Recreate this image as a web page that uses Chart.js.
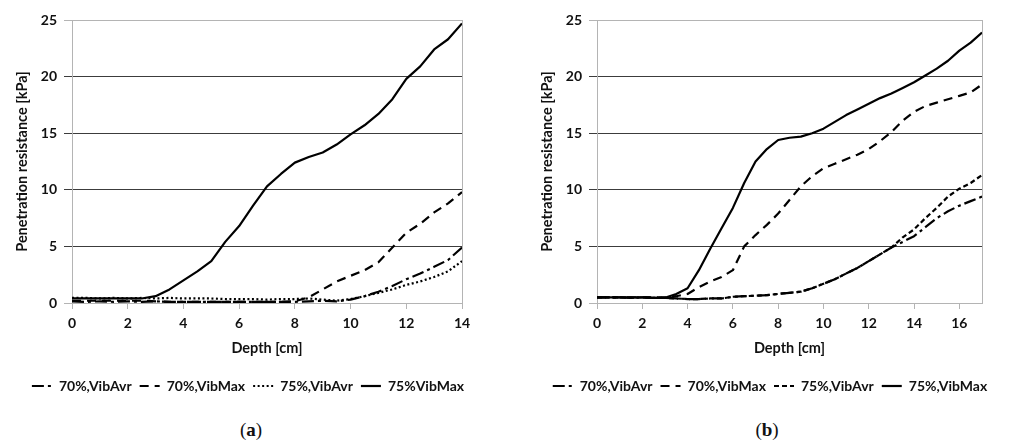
<!DOCTYPE html>
<html>
<head>
<meta charset="utf-8">
<script src="https://cdn.jsdelivr.net/npm/chart.js@4.4.0/dist/chart.umd.min.js"></script>
<style>
  html, body { margin: 0; padding: 0; background: #fff; }
  #page { position: relative; width: 1013px; height: 448px; overflow: hidden; }
  .panel { position: absolute; top: 0; height: 403px; }
  .caption { position: absolute; top: 419px; font-family: "Liberation Serif", serif; font-size: 19px; color: #111; transform: translateX(-50%); }
</style>
</head>
<body>
<div id="page">
  <div class="panel" style="left:0;width:500px"><canvas id="chart-a"></canvas></div>
  <div class="panel" style="left:516px;width:497px"><canvas id="chart-b"></canvas></div>
  <div class="caption" style="left:251px">(<b>a</b>)</div>
  <div class="caption" style="left:767px">(<b>b</b>)</div>
</div>
<script>
// (a) depth in cm, resistance in kPa
const depthA = [0, 0.5, 1, 1.5, 2, 2.5, 3, 3.5, 4, 4.5, 5, 5.5, 6, 6.5, 7, 7.5, 8, 8.5, 9, 9.5, 10, 10.5, 11, 11.5, 12, 12.5, 13, 13.5, 14];
const vibAvr70A = [0.15, 0.1, 0.15, 0.1, 0.15, 0.1, 0.15, 0.1, 0.1, 0.1, 0.1, 0.1, 0.1, 0.1, 0.1, 0.1, 0.1, 0.15, 0.2, 0.15, 0.3, 0.6, 1.0, 1.5, 2.1, 2.6, 3.2, 3.8, 4.9];
const vibMax70A = [0.2, 0.2, 0.2, 0.2, 0.2, 0.2, 0.15, 0.1, 0.1, 0.1, 0.1, 0.1, 0.1, 0.1, 0.1, 0.1, 0.15, 0.5, 1.2, 1.9, 2.4, 2.9, 3.6, 4.9, 6.2, 7.0, 8.0, 8.8, 9.8];
const vibAvr75A = [0.45, 0.45, 0.4, 0.45, 0.4, 0.45, 0.4, 0.45, 0.4, 0.4, 0.4, 0.35, 0.35, 0.35, 0.3, 0.35, 0.35, 0.4, 0.3, 0.2, 0.35, 0.6, 0.9, 1.2, 1.6, 1.9, 2.3, 2.8, 3.7];
const vibMax75A = [0.4, 0.4, 0.4, 0.4, 0.4, 0.4, 0.6, 1.2, 2.0, 2.8, 3.7, 5.4, 6.8, 8.6, 10.3, 11.4, 12.4, 12.9, 13.3, 14.0, 14.9, 15.7, 16.7, 18.0, 19.8, 20.9, 22.4, 23.3, 24.7];
const labelsA = ['70%,VibAvr', '70%,VibMax', '75%,VibAvr', '75%VibMax'];

// (b)
const depthB = [0, 0.5, 1, 1.5, 2, 2.5, 3, 3.5, 4, 4.5, 5, 5.5, 6, 6.5, 7, 7.5, 8, 8.5, 9, 9.5, 10, 10.5, 11, 11.5, 12, 12.5, 13, 13.5, 14, 14.5, 15, 15.5, 16, 16.5, 17];
const vibAvr70B = [0.5, 0.5, 0.5, 0.45, 0.5, 0.45, 0.45, 0.4, 0.35, 0.35, 0.4, 0.4, 0.55, 0.6, 0.65, 0.7, 0.8, 0.9, 1.0, 1.3, 1.7, 2.1, 2.6, 3.1, 3.7, 4.3, 4.9, 5.4, 5.9, 6.7, 7.5, 8.1, 8.6, 9.0, 9.4];
const vibMax70B = [0.5, 0.5, 0.5, 0.5, 0.5, 0.5, 0.5, 0.6, 0.8, 1.4, 1.9, 2.3, 2.9, 5.0, 6.0, 6.9, 7.9, 9.1, 10.3, 11.2, 11.9, 12.3, 12.7, 13.1, 13.6, 14.3, 15.1, 16.1, 16.9, 17.4, 17.7, 18.0, 18.3, 18.6, 19.3];
const vibAvr75B = [0.5, 0.5, 0.5, 0.45, 0.5, 0.45, 0.45, 0.4, 0.35, 0.35, 0.4, 0.4, 0.55, 0.6, 0.65, 0.7, 0.8, 0.9, 1.0, 1.3, 1.7, 2.1, 2.6, 3.1, 3.7, 4.3, 4.9, 5.8, 6.5, 7.5, 8.4, 9.4, 10.1, 10.6, 11.3];
const vibMax75B = [0.5, 0.5, 0.5, 0.5, 0.5, 0.45, 0.45, 0.8, 1.3, 2.9, 4.8, 6.6, 8.4, 10.6, 12.5, 13.6, 14.4, 14.6, 14.7, 15.0, 15.4, 16.0, 16.6, 17.1, 17.6, 18.1, 18.5, 19.0, 19.5, 20.1, 20.7, 21.4, 22.3, 23.0, 23.9];
const labelsB = ['70%,VibAvr', '70%,VibMax', '75%,VibAvr', '75%,VibMax'];

const yTicks = [0, 5, 10, 15, 20, 25];

// line patterns for the four series
const dashesA = [[12, 4, 3, 4], [9, 6], [2, 2.5], []];
const dashesB = [[12, 4, 3, 4], [9, 6], [5, 3], []];

const GRID = '#3c3c3c';
const AXIS = '#b4b4b4';
const TICK_FONT = { family: 'Lato', weight: 'bold', size: 14 };
const TITLE_FONT = { family: 'Lato', weight: 'bold', size: 14.5 };
const PLOT_BOTTOM = 303;

function points(xs, ys) {
    return xs.map((x, i) => ({ x: x, y: ys[i] }));
}

function makeChart(id, depths, series, labels, dashes, xMax, pad, rightWidth) {
    const datasets = series.map((ys, i) => ({
        label: labels[i],
        data: points(depths, ys),
        borderColor: '#000',
        backgroundColor: '#000',
        borderWidth: 2.2,
        borderDash: dashes[i],
        borderCapStyle: 'butt',
        borderJoinStyle: 'round',
        pointRadius: 0,
        tension: 0
    }));

    return new Chart(document.getElementById(id), {
        type: 'line',
        data: { datasets: datasets },
        options: {
            responsive: true,
            maintainAspectRatio: false,
            animation: false,
            layout: { padding: { left: pad.left, right: pad.right, top: 20, bottom: 0 } },
            plugins: {
                tooltip: { enabled: false },
                legend: {
                    position: 'bottom',
                    labels: {
                        usePointStyle: true,
                        pointStyle: 'line',
                        pointStyleWidth: 20,
                        padding: 8,
                        color: '#111',
                        font: { family: 'Lato', weight: 'bold', size: 14 },
                        generateLabels(chart) {
                            const items = Chart.defaults.plugins.legend.labels.generateLabels(chart);
                            items.forEach(item => {
                                const ds = chart.data.datasets[item.datasetIndex];
                                item.lineDash = ds.borderDash;
                                item.lineWidth = ds.borderWidth;
                                item.strokeStyle = ds.borderColor;
                            });
                            return items;
                        }
                    }
                }
            },
            scales: {
                x: {
                    type: 'linear',
                    min: 0,
                    max: xMax,
                    ticks: { stepSize: 2, includeBounds: false, color: '#111', font: TICK_FONT, padding: 6, maxRotation: 0 },
                    grid: { drawOnChartArea: false, color: AXIS, tickLength: 6 },
                    border: { color: AXIS, width: 1 },
                    title: { display: true, text: 'Depth [cm]', color: '#111', font: TITLE_FONT, padding: { top: 0, bottom: 14 } },
                    afterFit(scale) {
                        scale.height = scale.chart.height - PLOT_BOTTOM - scale.chart.legend.height;
                    }
                },
                y: {
                    min: 0,
                    max: 25,
                    afterBuildTicks(scale) {
                        scale.ticks = yTicks.map(v => ({ value: v }));
                    },
                    ticks: { color: '#111', font: TICK_FONT, padding: 7 },
                    grid: {
                        color: ctx => (ctx.tick && (ctx.tick.value === 0 || ctx.tick.value === 25)) ? AXIS : GRID,
                        tickLength: 8
                    },
                    border: { color: AXIS, width: 1 },
                    title: { display: true, text: 'Penetration resistance [kPa]', color: '#111', font: TITLE_FONT, padding: { top: 0, bottom: 0 } },
                    afterFit(scale) { scale.width = 58; }
                },
                // closes the plot frame on the right
                yRight: {
                    position: 'right',
                    display: true,
                    ticks: { display: false },
                    grid: { display: false },
                    border: { color: AXIS, width: 1 },
                    afterFit(scale) { scale.width = rightWidth; }
                }
            }
        }
    });
}

makeChart('chart-a', depthA, [vibAvr70A, vibMax70A, vibAvr75A, vibMax75A], labelsA, dashesA, 14, { left: 14, right: 18 }, 20);
makeChart('chart-b', depthB, [vibAvr70B, vibMax70B, vibAvr75B, vibMax75B], labelsB, dashesB, 17, { left: 23, right: 12 }, 19);
</script>
</body>
</html>
